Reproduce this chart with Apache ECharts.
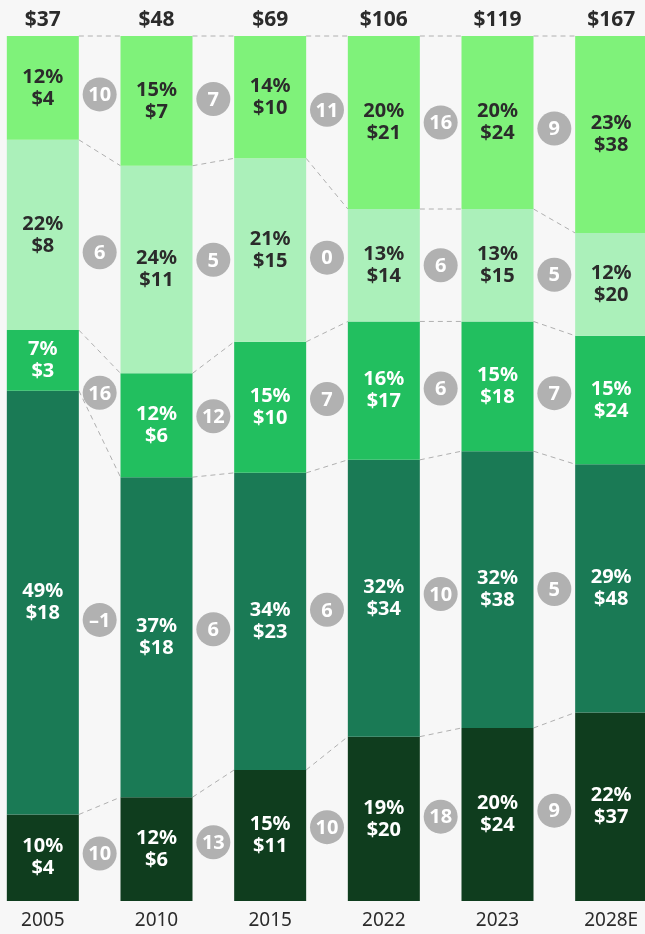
<!DOCTYPE html>
<html>
<head>
<meta charset="utf-8">
<script src="https://cdn.jsdelivr.net/npm/echarts@6/dist/echarts.min.js"></script>
<style>
  html, body { margin: 0; padding: 0; background: #f7f7f7; }
  #chart { width: 645px; height: 934px; }
</style>
</head>
<body>
<div id="chart"></div>
<script>
// Years along the x axis and totals shown above each column
const years = ['2005', '2010', '2015', '2022', '2023', '2028E'];
const totals = [37, 48, 69, 106, 119, 167];

// Segment shares (%) and dollar values, listed bottom segment first
const pctBottom = [10, 12, 15, 19, 20, 22];
const usdBottom = [4, 6, 11, 20, 24, 37];
const pctLower = [49, 37, 34, 32, 32, 29];
const usdLower = [18, 18, 23, 34, 38, 48];
const pctMiddle = [7, 12, 15, 16, 15, 15];
const usdMiddle = [3, 6, 10, 17, 18, 24];
const pctUpper = [22, 24, 21, 13, 13, 12];
const usdUpper = [8, 11, 15, 14, 15, 20];
const pctTop = [12, 15, 14, 20, 20, 23];
const usdTop = [4, 7, 10, 21, 24, 38];

// Growth between consecutive years, per segment
const growthBottom = [10, 13, 10, 18, 9];
const growthLower = [-1, 6, 6, 10, 5];
const growthMiddle = [16, 12, 7, 6, 7];
const growthUpper = [6, 5, 0, 6, 5];
const growthTop = [10, 7, 11, 16, 9];

const segments = [
  { pct: pctBottom, usd: usdBottom, growth: growthBottom, color: '#0f3d1e', text: '#ffffff' },
  { pct: pctLower, usd: usdLower, growth: growthLower, color: '#1a7a55', text: '#ffffff' },
  { pct: pctMiddle, usd: usdMiddle, growth: growthMiddle, color: '#22bf5f', text: '#ffffff' },
  { pct: pctUpper, usd: usdUpper, growth: growthUpper, color: '#abf0ba', text: '#2b2b2b' },
  { pct: pctTop, usd: usdTop, growth: growthTop, color: '#7ff27a', text: '#2b2b2b' }
];

const FONT = '"Noto Sans", "Open Sans", sans-serif';
const BAR_W = 72;

// Each column is drawn as a full-height stack: shares are rescaled so they add to 100
const colSums = years.map((_, i) => segments.reduce((s, seg) => s + seg.pct[i], 0));
const shares = segments.map(seg => seg.pct.map((p, i) => p / colSums[i] * 100));

// Cumulative boundaries per column: cum[i][k] = top of k-th segment from the bottom
const cum = years.map((_, i) => {
  const out = [0];
  let acc = 0;
  shares.forEach(s => { acc += s[i]; out.push(acc); });
  return out;
});

// Dashed connectors between matching segment boundaries of neighbouring columns
const connectorData = [];
for (let k = 1; k <= segments.length; k++) {
  for (let i = 0; i < years.length - 1; i++) {
    connectorData.push([i, cum[i][k], cum[i + 1][k]]);
  }
}

// Growth badges sit midway between the centres of the same segment in neighbouring columns
const badgeData = [];
segments.forEach((seg, s) => {
  for (let i = 0; i < years.length - 1; i++) {
    const yL = cum[i][s] + shares[s][i] / 2;
    const yR = cum[i + 1][s] + shares[s][i + 1] / 2;
    badgeData.push([i, yL, yR, seg.growth[i]]);
  }
});

const barSeries = segments.map((seg, s) => ({
  type: 'bar',
  stack: 'share',
  barWidth: BAR_W,
  z: 3,
  data: shares[s],
  itemStyle: { color: seg.color },
  label: {
    show: true,
    position: 'inside',
    color: seg.text,
    fontFamily: FONT,
    fontWeight: 'bold',
    fontSize: 20,
    lineHeight: 22,
    formatter: p => seg.pct[p.dataIndex] + '%\n$' + seg.usd[p.dataIndex]
  }
}));

const chart = echarts.init(document.getElementById('chart'), null, { renderer: 'canvas' });

chart.setOption({
  backgroundColor: '#f7f7f7',
  animation: false,
  grid: { left: -14, right: -23, top: 36, bottom: 33, containLabel: false, outerBoundsMode: 'none' },
  xAxis: [
    {
      type: 'category',
      data: years,
      axisLine: { show: false },
      axisTick: { show: false },
      axisLabel: { color: '#2b2b2b', fontFamily: FONT, fontSize: 19, margin: 10 }
    },
    {
      type: 'category',
      position: 'top',
      data: totals.map(t => '$' + t),
      axisLine: { show: false },
      axisTick: { show: false },
      axisLabel: { color: '#2b2b2b', fontFamily: FONT, fontSize: 21, fontWeight: 'bold', margin: 5 }
    }
  ],
  yAxis: { type: 'value', min: 0, max: 100, show: false },
  series: [
    ...barSeries,
    {
      type: 'custom',
      z: 2,
      silent: true,
      encode: { x: 0, y: 1 },
      data: connectorData,
      renderItem: (params, api) => {
        const a = api.coord([api.value(0), api.value(1)]);
        const b = api.coord([api.value(0) + 1, api.value(2)]);
        return {
          type: 'line',
          shape: { x1: a[0] + BAR_W / 2, y1: a[1], x2: b[0] - BAR_W / 2, y2: b[1] },
          style: { stroke: '#b0b0b0', lineWidth: 1, lineDash: [5, 4] }
        };
      }
    },
    {
      type: 'custom',
      z: 4,
      silent: true,
      encode: { x: 0, y: 1 },
      data: badgeData,
      renderItem: (params, api) => {
        const a = api.coord([api.value(0), api.value(1)]);
        const b = api.coord([api.value(0) + 1, api.value(2)]);
        const cx = (a[0] + b[0]) / 2;
        const cy = (a[1] + b[1]) / 2;
        const g = api.value(3);
        return {
          type: 'group',
          children: [
            { type: 'circle', shape: { cx: cx, cy: cy, r: 17 }, style: { fill: '#b1b1b1' } },
            {
              type: 'text',
              style: {
                text: g < 0 ? '\u2013' + Math.abs(g) : String(g),
                x: cx, y: cy + 1,
                align: 'center', verticalAlign: 'middle',
                fill: '#ffffff', fontFamily: FONT, fontWeight: 'bold', fontSize: 20
              }
            }
          ]
        };
      }
    }
  ]
});
</script>
</body>
</html>
